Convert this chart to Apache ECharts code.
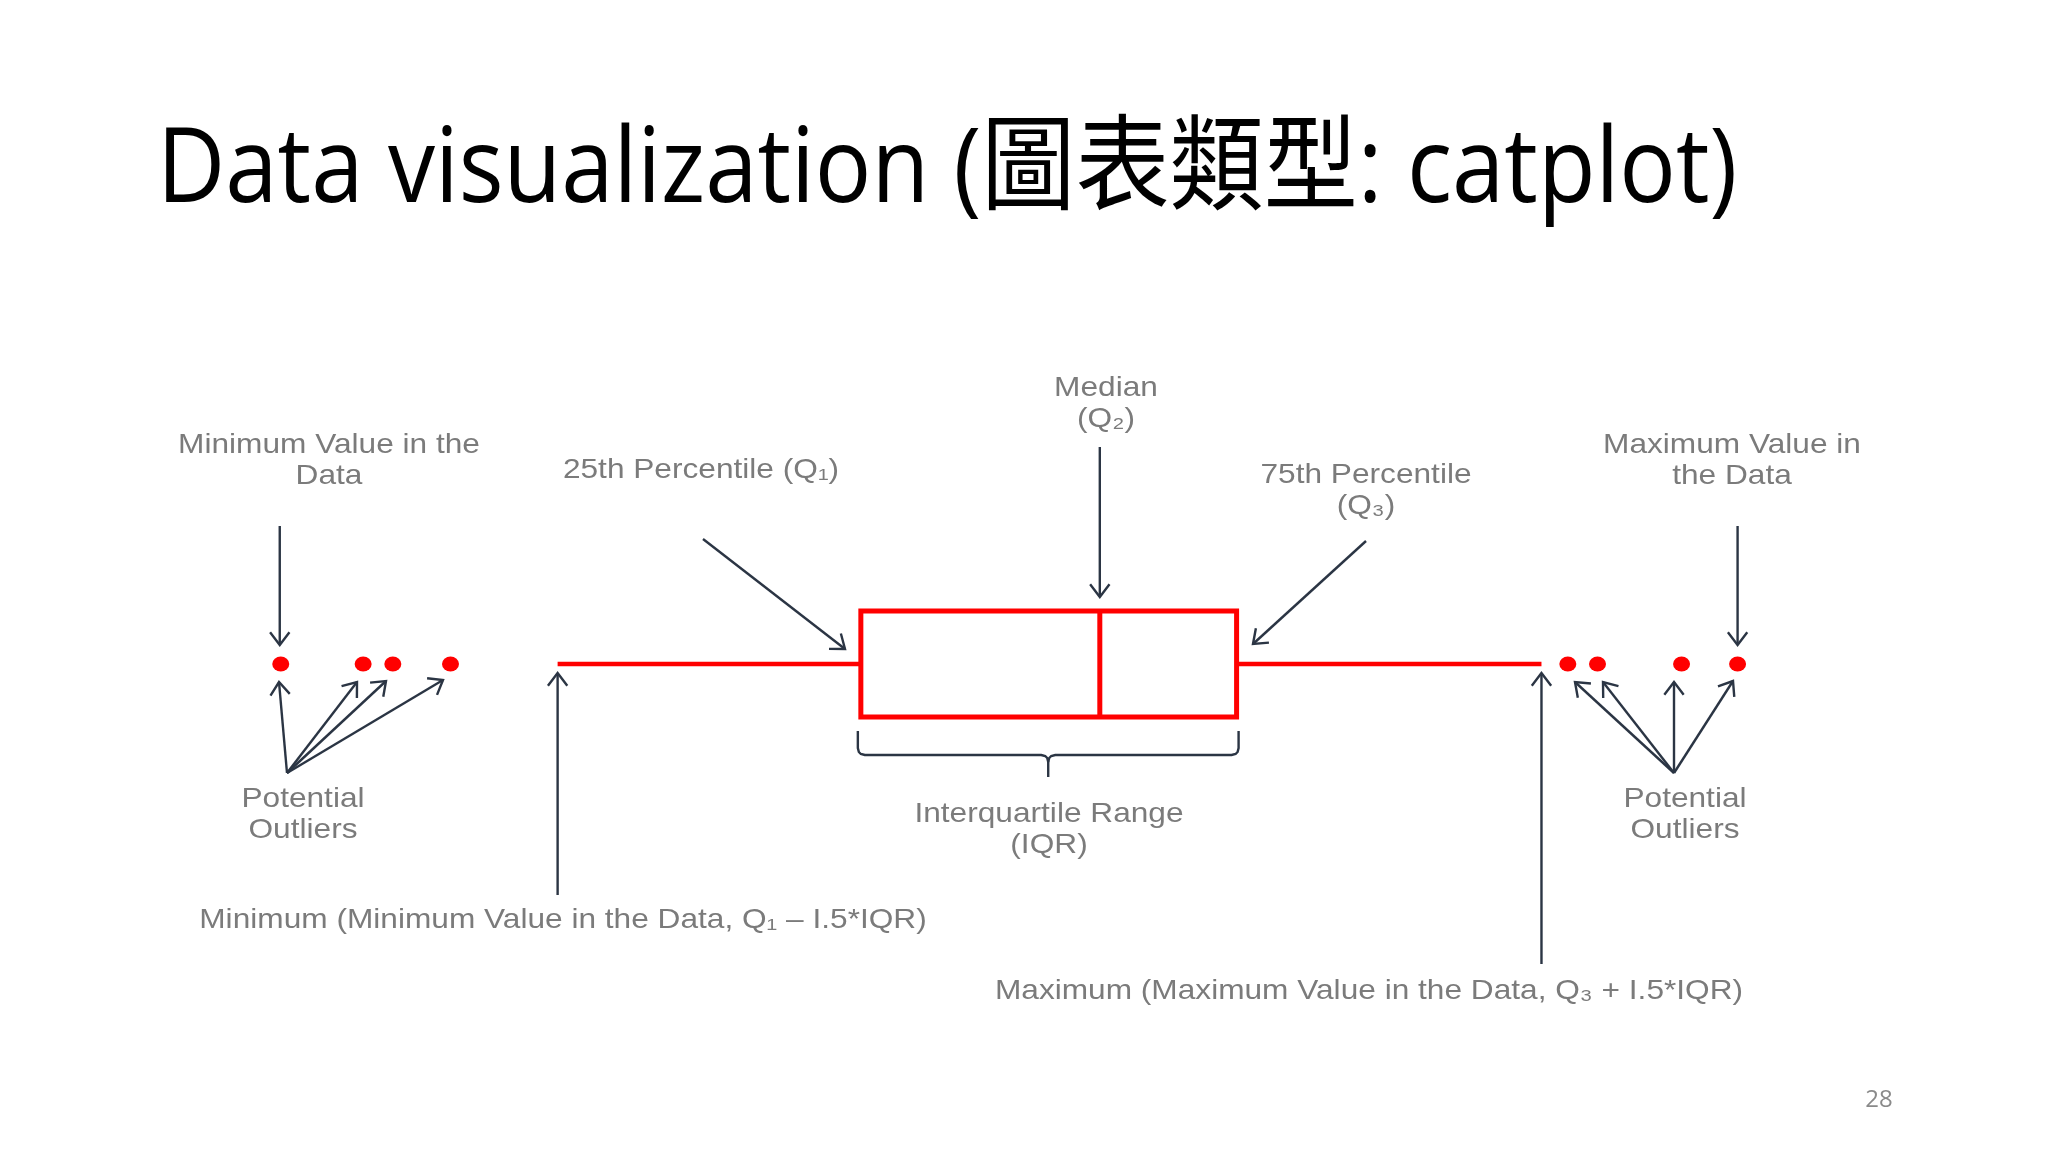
<!DOCTYPE html>
<html>
<head>
<meta charset="utf-8">
<title>Data visualization (圖表類型: catplot)</title>
<script src="https://cdn.jsdelivr.net/npm/echarts@6/dist/echarts.min.js"></script>
<style>
  html, body { margin: 0; padding: 0; background: #fff; }
  #chart { width: 2048px; height: 1152px; }
</style>
</head>
<body>
<div id="chart"></div>
<script>
// box summary: lower whisker, Q1, median, Q3, upper whisker
var boxStats = [21.7, 40.1, 54.6, 62.9, 81.4];
var lowOutliers = [4.9, 9.9, 11.7, 15.2];
var highOutliers = [83.0, 84.8, 89.9, 93.3];
var categories = ['data'];

var RED = '#ff0000';
var INK = '#2b3544';
var LABEL = '#7b7b7b';
var LABEL_FONT = "'Liberation Sans', Arial, sans-serif";

var chart = echarts.init(document.getElementById('chart'));

chart.setOption({
    backgroundColor: '#fff',
    animation: false,
    grid: { left: 200, right: 200, top: 611, height: 106 },
    xAxis: { type: 'value', min: 0, max: 100, show: false },
    yAxis: { type: 'category', data: categories, show: false },
    series: [
        {
            type: 'custom',
            data: [[0].concat(boxStats)],
            encode: { y: 0, x: [1, 2, 3, 4, 5] },
            renderItem: function (params, api) {
                var cat = api.value(0);
                var p = [1, 2, 3, 4, 5].map(function (i) {
                    return api.coord([api.value(i), cat]);
                });
                var cy = p[0][1];
                var h = api.size([0, 1])[1];
                return {
                    type: 'group',
                    children: [
                        { type: 'line', shape: { x1: p[0][0], y1: cy, x2: p[1][0], y2: cy }, style: { stroke: RED, lineWidth: 4.5 } },
                        { type: 'line', shape: { x1: p[3][0], y1: cy, x2: p[4][0], y2: cy }, style: { stroke: RED, lineWidth: 4.5 } },
                        { type: 'rect', shape: { x: p[1][0], y: cy - h / 2, width: p[3][0] - p[1][0], height: h }, style: { fill: '#fff', stroke: RED, lineWidth: 5 } },
                        { type: 'line', shape: { x1: p[2][0], y1: cy - h / 2, x2: p[2][0], y2: cy + h / 2 }, style: { stroke: RED, lineWidth: 5 } }
                    ]
                };
            }
        },
        {
            type: 'scatter',
            data: lowOutliers.concat(highOutliers).map(function (v) { return [v, 0]; }),
            symbolSize: [17, 15],
            itemStyle: { color: RED, opacity: 1 }
        }
    ]
});

// pixel x of a data value
function px(v) {
    return chart.convertToPixel({ xAxisIndex: 0, yAxisIndex: 0 }, [v, 0])[0];
}

// line with an open arrow head at (x2, y2)
function arrow(x1, y1, x2, y2) {
    var a = Math.atan2(y2 - y1, x2 - x1), L = 16, w = 0.65;
    return {
        type: 'group',
        silent: true,
        children: [
            { type: 'line', shape: { x1: x1, y1: y1, x2: x2, y2: y2 }, style: { stroke: INK, lineWidth: 2.4 } },
            {
                type: 'polyline',
                shape: {
                    points: [
                        [x2 - L * Math.cos(a - w), y2 - L * Math.sin(a - w)],
                        [x2, y2],
                        [x2 - L * Math.cos(a + w), y2 - L * Math.sin(a + w)]
                    ]
                },
                style: { stroke: INK, lineWidth: 2.4, fill: null }
            }
        ]
    };
}

function label(text, x, y) {
    return {
        type: 'text', x: x, y: y + 2, scaleX: 1.13, silent: true,
        style: {
            text: text, fill: LABEL, fontSize: 28, fontFamily: LABEL_FONT,
            align: 'center', verticalAlign: 'middle', lineHeight: 31
        }
    };
}

function brace(left, right, top, mid, tip) {
    var c = left + (right - left) / 2;
    var line = function (pts) {
        return { type: 'polyline', silent: true, shape: { points: pts }, style: { stroke: INK, lineWidth: 2.4, fill: null } };
    };
    return {
        type: 'group',
        children: [
            line([[left, top], [left, mid - 7], [left + 1, mid - 3], [left + 3, mid - 1], [left + 7, mid],
                [c - 7, mid], [c - 3, mid + 1], [c - 1, mid + 3], [c, mid + 7], [c, tip]]),
            line([[c, mid + 7], [c + 1, mid + 3], [c + 3, mid + 1], [c + 7, mid],
                [right - 7, mid], [right - 3, mid - 1], [right - 1, mid - 3], [right, mid - 7], [right, top]])
        ]
    };
}

var els = [
    {
        type: 'text', x: 157, y: 172, scaleX: 0.905, silent: true,
        style: {
            text: 'Data visualization (圖表類型: catplot)', fill: '#000',
            fontSize: 104, fontFamily: "'Open Sans', 'Noto Sans CJK TC', sans-serif",
            align: 'left', verticalAlign: 'middle'
        }
    },
    {
        type: 'text', x: 1879, y: 1100, silent: true,
        style: {
            text: '28', fill: '#8a8a8a', fontSize: 24,
            fontFamily: "'Open Sans', sans-serif", align: 'center', verticalAlign: 'middle'
        }
    },

    label('Minimum Value in the\nData', 329, 459),
    label('25th Percentile (Q₁)', 701, 468),
    label('Median\n(Q₂)', 1106, 402),
    label('75th Percentile\n(Q₃)', 1366, 489),
    label('Maximum Value in\nthe Data', 1732, 459),
    label('Potential\nOutliers', 303, 813),
    label('Interquartile Range\n(IQR)', 1049, 828),
    label('Potential\nOutliers', 1685, 813),
    label('Minimum (Minimum Value in the Data, Q₁ – I.5*IQR)', 563, 918),
    label('Maximum (Maximum Value in the Data, Q₃ + I.5*IQR)', 1369, 989),

    arrow(px(lowOutliers[0]) - 1, 526, px(lowOutliers[0]) - 1, 645),
    arrow(703, 539, 845, 649),
    arrow(px(boxStats[2]), 447, px(boxStats[2]), 597),
    arrow(1366, 541, 1253, 644),
    arrow(px(highOutliers[3]), 526, px(highOutliers[3]), 645),
    arrow(px(boxStats[0]), 895, px(boxStats[0]), 673),
    arrow(px(boxStats[4]), 964, px(boxStats[4]), 673),

    arrow(287, 773, 279, 682),
    arrow(287, 773, 357, 682),
    arrow(287, 773, 386, 681),
    arrow(287, 773, 443, 680),

    arrow(1674, 773, 1575, 682),
    arrow(1674, 773, 1603, 682),
    arrow(1674, 773, 1674, 682),
    arrow(1674, 773, 1733, 681),

    brace(px(boxStats[1]) - 3, px(boxStats[3]) + 2, 731, 755, 777)
];

chart.setOption({ graphic: { elements: els } });
</script>
</body>
</html>
